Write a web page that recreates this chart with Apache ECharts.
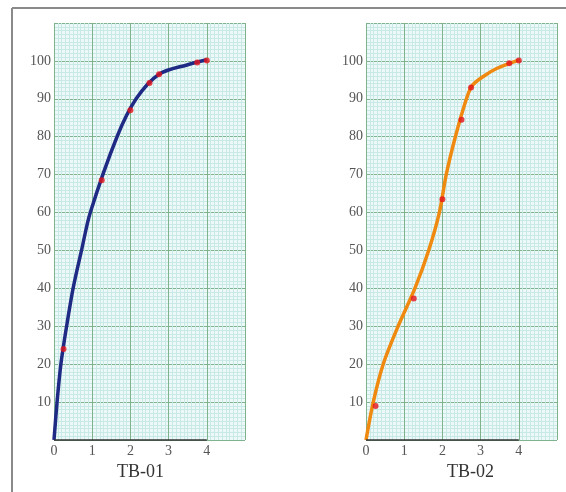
<!DOCTYPE html>
<html>
<head>
<meta charset="utf-8">
<script src="https://cdn.jsdelivr.net/npm/echarts@6/dist/echarts.min.js"></script>
<style>
  html, body { margin: 0; padding: 0; background: #fff; }
  #main { width: 566px; height: 492px; }
</style>
</head>
<body>
<div id="main"></div>
<script>
// smooth curves
var curve01 = [[0, 0], [0.08, 10], [0.18, 20], [0.33, 30], [0.5, 40], [0.72, 50], [0.95, 60],
    [1.65, 80], [2.15, 90], [2.75, 96.5], [3.5, 99], [4, 100.3]];
var curve02 = [[0, 0], [0.19, 10], [0.45, 20], [0.84, 30], [1.28, 40], [1.64, 50], [1.92, 60],
    [2.1, 70], [2.34, 80], [2.63, 90], [2.78, 93.5], [3.07, 95.9], [3.42, 98], [4, 100.2]];
// measured points (red dots)
var points01 = [[0.25, 24], [1.25, 68.5], [2, 87], [2.5, 94.2], [2.75, 96.5], [3.75, 99.6], [4, 100.1]];
var points02 = [[0.25, 9], [1.25, 37.3], [2, 63.5], [2.5, 84.5], [2.75, 93], [3.75, 99.4], [4, 100.1]];
var titles = ['TB-01', 'TB-02'];
var xLabels = ['0', '1', '2', '3', '4'];
var yLabels = ['10', '20', '30', '40', '50', '60', '70', '80', '90', '100'];

var serif = 'Liberation Serif';
var majorColor = '#7fb38e';
var minorColor = '#c9e9e7';

function xAxisFor(i) {
    return {
        type: 'value', gridIndex: i, min: 0, max: 5, interval: 1,
        axisLine: {show: false}, axisTick: {show: false},
        axisLabel: {
            margin: 4, color: '#555', fontFamily: serif, fontSize: 14,
            formatter: function (v) { return xLabels.indexOf(String(v)) >= 0 ? String(v) : ''; }
        },
        splitLine: {show: true, lineStyle: {color: majorColor, width: 1}},
        minorTick: {show: false, splitNumber: 10},
        minorSplitLine: {show: true, lineStyle: {color: minorColor, width: 1}}
    };
}
function yAxisFor(i) {
    return {
        type: 'value', gridIndex: i, min: 0, max: 110, interval: 10,
        axisLine: {show: false}, axisTick: {show: false},
        axisLabel: {
            margin: 3, color: '#555', fontFamily: serif, fontSize: 14,
            formatter: function (v) { return yLabels.indexOf(String(v)) >= 0 ? String(v) : ''; }
        },
        splitLine: {show: true, lineStyle: {color: majorColor, width: 1}},
        minorTick: {show: false, splitNumber: 10},
        minorSplitLine: {show: true, lineStyle: {color: minorColor, width: 1}}
    };
}
function curveSeries(i, data, color) {
    return {
        type: 'line', xAxisIndex: i, yAxisIndex: i, data: data,
        smooth: 0.3, symbol: 'none', z: 3,
        lineStyle: {color: color, width: 3.5},
        markLine: {
            silent: true, symbol: 'none', label: {show: false},
            lineStyle: {color: '#333', width: 1.5, type: 'solid'},
            data: [[{coord: [0, 0]}, {coord: [4, 0]}]]
        }
    };
}
function pointSeries(i, data) {
    return {
        type: 'scatter', xAxisIndex: i, yAxisIndex: i, data: data,
        symbolSize: 6, z: 4,
        itemStyle: {color: '#e3141b'}
    };
}

var myChart = echarts.init(document.getElementById('main'));
option = {
    animation: false,
    backgroundColor: '#fff',
    title: [
        {text: titles[0], left: 117, top: 463, padding: 0,
            textStyle: {fontFamily: serif, fontSize: 18, fontWeight: 'normal', color: '#333'}},
        {text: titles[1], left: 447, top: 463, padding: 0,
            textStyle: {fontFamily: serif, fontSize: 18, fontWeight: 'normal', color: '#333'}}
    ],
    grid: [
        {left: 54, top: 23, width: 191, height: 417, show: true, backgroundColor: '#edf9f9', borderWidth: 0},
        {left: 366, top: 23, width: 191, height: 417, show: true, backgroundColor: '#edf9f9', borderWidth: 0}
    ],
    xAxis: [xAxisFor(0), xAxisFor(1)],
    yAxis: [yAxisFor(0), yAxisFor(1)],
    graphic: [
        {type: 'line', shape: {x1: 12, y1: 8, x2: 566, y2: 8}, style: {stroke: '#8a8a8a', lineWidth: 2}},
        {type: 'line', shape: {x1: 12, y1: 8, x2: 12, y2: 492}, style: {stroke: '#8a8a8a', lineWidth: 2}}
    ],
    series: [
        curveSeries(0, curve01, '#1f2a85'),
        pointSeries(0, points01),
        curveSeries(1, curve02, '#f0890f'),
        pointSeries(1, points02)
    ]
};
myChart.setOption(option);
</script>
</body>
</html>
